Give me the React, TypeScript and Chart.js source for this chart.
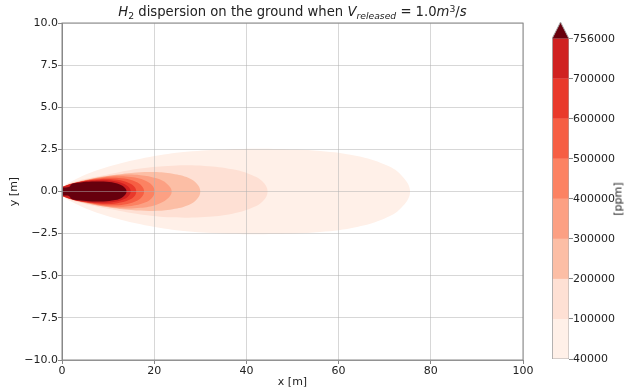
import React, { useEffect, useRef } from 'react';
import { Chart, registerables } from 'chart.js';

Chart.register(...registerables);

// Contour levels [ppm] (colorbar ticks)
const LEVELS = [40000, 100000, 200000, 300000, 400000, 500000, 600000, 700000, 756000];
// Fill colours for each band between successive levels, plus the "over" colour
const BAND_COLORS = ['#fff0e8', '#fee0d4', '#fcbea5', '#fca083', '#fc8262', '#f65e43', '#e9392b', '#d02120'];
const OVER_COLOR = '#67000d';

// Upper half-width (y [m]) of each contour at downwind stations x [m]; contours are symmetric about y = 0
const c40k_x = [0, 2, 6, 12, 19, 27, 36, 46, 56, 64, 70, 73.5, 75.5];
const c40k_w = [0.28, 0.6, 1.1, 1.62, 2.05, 2.36, 2.5, 2.52, 2.4, 2.1, 1.6, 1.0, 0];
const c100k_x = [0, 2, 6, 11, 17, 24, 31, 37, 41, 43.5, 44.6];
const c100k_w = [0.27, 0.52, 0.8, 1.07, 1.36, 1.53, 1.52, 1.32, 1.0, 0.6, 0];
const c200k_x = [0, 2, 6, 10, 15, 20, 24, 27.5, 29.3, 30];
const c200k_w = [0.26, 0.47, 0.74, 0.93, 1.1, 1.15, 1.05, 0.8, 0.45, 0];
const c300k_x = [0, 2, 5, 9, 13, 17, 20.5, 22.8, 23.8];
const c300k_w = [0.26, 0.45, 0.67, 0.88, 1.0, 0.97, 0.78, 0.45, 0];
const c400k_x = [0, 2, 5, 8, 11.5, 15, 18, 19.5, 20.1];
const c400k_w = [0.25, 0.44, 0.64, 0.8, 0.9, 0.86, 0.66, 0.38, 0];
const c500k_x = [0, 2, 4.5, 7.5, 10.5, 13.5, 16, 17.3, 17.8];
const c500k_w = [0.25, 0.43, 0.61, 0.75, 0.82, 0.77, 0.58, 0.33, 0];
const c600k_x = [0, 2, 4.5, 7, 9.5, 12, 14.5, 15.7, 16.1];
const c600k_w = [0.25, 0.43, 0.6, 0.7, 0.74, 0.69, 0.5, 0.28, 0];
const c700k_x = [0, 1.8, 4, 6.5, 9, 11.5, 13.5, 14.5, 14.9];
const c700k_w = [0.25, 0.44, 0.58, 0.65, 0.67, 0.61, 0.45, 0.25, 0];
const c756k_x = [0, 1.5, 2.1, 4, 6.5, 9, 11.5, 13.2, 14.0];
const c756k_w = [0.24, 0.26, 0.45, 0.54, 0.59, 0.59, 0.51, 0.32, 0];

const CONTOURS = [
  { x: c40k_x, w: c40k_w },
  { x: c100k_x, w: c100k_w },
  { x: c200k_x, w: c200k_w },
  { x: c300k_x, w: c300k_w },
  { x: c400k_x, w: c400k_w },
  { x: c500k_x, w: c500k_w },
  { x: c600k_x, w: c600k_w },
  { x: c700k_x, w: c700k_w },
  { x: c756k_x, w: c756k_w },
];

const X_MIN = 0, X_MAX = 100, X_STEP = 20;
const Y_MIN = -10, Y_MAX = 10, Y_STEP = 2.5;

const FONT = 'DejaVu Sans';
const TEXT = '#222';
const SPINE = '#888';
const GRID = 'rgba(176,176,176,0.5)';

const framePlugin = {
  id: 'frame',
  afterDraw(chart: any) {
    const { ctx, chartArea: a } = chart;
    ctx.save();
    ctx.strokeStyle = SPINE;
    ctx.lineWidth = 1;
    ctx.strokeRect(a.left, a.top, a.right - a.left, a.bottom - a.top);
    ctx.restore();
  },
};

const fmtY = (v: number) => (v < 0 ? '\u2212' : '') + Math.abs(v).toFixed(1);

export default function App() {
  const mainRef = useRef<HTMLCanvasElement>(null);
  const barRef = useRef<HTMLCanvasElement>(null);

  useEffect(() => {
    Chart.defaults.font.family = FONT;
    Chart.defaults.font.size = 11;

    const datasets = CONTOURS.map((c, i) => {
      const upper = c.x.map((x, k) => ({ x, y: c.w[k] }));
      const lower = c.x.slice(0, -1).map((x, k) => ({ x, y: -c.w[k] })).reverse();
      return {
        label: '> ' + LEVELS[i],
        data: [...upper, ...lower],
        showLine: true,
        fill: 'shape',
        backgroundColor: i < BAND_COLORS.length ? BAND_COLORS[i] : OVER_COLOR,
        borderColor: 'transparent',
        borderWidth: 0,
        pointRadius: 0,
        tension: 0.4,
        order: CONTOURS.length - i,
      };
    });

    const main = new Chart(mainRef.current!, {
      type: 'scatter',
      data: { datasets: datasets as any },
      options: {
        responsive: false,
        animation: false,
        devicePixelRatio: 1,
        events: [],
        layout: { padding: { left: 0, top: 23, right: 17, bottom: 0 } },
        plugins: { legend: { display: false }, tooltip: { enabled: false }, title: { display: false } },
        scales: {
          x: {
            type: 'linear',
            min: X_MIN,
            max: X_MAX,
            ticks: { stepSize: X_STEP, color: TEXT, padding: 1, maxRotation: 0 },
            grid: { color: GRID, z: 1, tickLength: 4, tickColor: SPINE },
            border: { color: SPINE, z: 1 },
            title: { display: true, text: 'x [m]', color: TEXT, padding: { top: 0, bottom: 2 } },
            afterFit: (s: any) => { s.height = 31; },
          },
          y: {
            type: 'linear',
            min: Y_MIN,
            max: Y_MAX,
            ticks: { stepSize: Y_STEP, color: TEXT, padding: 0, callback: (v: any) => fmtY(Number(v)) },
            grid: { color: GRID, z: 1, tickLength: 4, tickColor: SPINE },
            border: { color: SPINE, z: 1 },
            title: { display: true, text: 'y [m]', color: TEXT, padding: { top: 8, bottom: 0 } },
            afterFit: (s: any) => { s.width = 62; },
          },
        },
      } as any,
      plugins: [framePlugin],
    });

    const nBands = BAND_COLORS.length;
    const tri = 0.42;
    const bandSets = BAND_COLORS.map((col, i) => ({
      label: LEVELS[i] + '-' + LEVELS[i + 1],
      data: [{ x: 0, y: i }, { x: 1, y: i }, { x: 1, y: i + 1 }, { x: 0, y: i + 1 }],
      showLine: true,
      fill: 'shape',
      backgroundColor: col,
      borderColor: 'transparent',
      borderWidth: 0,
      pointRadius: 0,
    }));
    const overSet = {
      label: '> ' + LEVELS[LEVELS.length - 1],
      data: [{ x: 0, y: nBands }, { x: 1, y: nBands }, { x: 0.5, y: nBands + tri }],
      showLine: true,
      fill: 'shape',
      backgroundColor: OVER_COLOR,
      borderColor: 'transparent',
      borderWidth: 0,
      pointRadius: 0,
    };
    const outline = {
      label: 'outline',
      data: [{ x: 0, y: 0 }, { x: 1, y: 0 }, { x: 1, y: nBands }, { x: 0.5, y: nBands + tri }, { x: 0, y: nBands }, { x: 0, y: 0 }],
      showLine: true,
      fill: false,
      borderColor: '#aaa',
      borderWidth: 1,
      pointRadius: 0,
      order: -1,
    };

    const bar = new Chart(barRef.current!, {
      type: 'scatter',
      data: { datasets: [...bandSets, overSet, outline] as any },
      options: {
        responsive: false,
        animation: false,
        devicePixelRatio: 1,
        events: [],
        layout: { padding: { left: 12, top: 22, right: 0, bottom: 32 } },
        plugins: { legend: { display: false }, tooltip: { enabled: false } },
        scales: {
          x: { type: 'linear', min: 0, max: 1, display: false },
          y: {
            type: 'linear',
            position: 'right',
            min: 0,
            max: nBands + tri,
            afterBuildTicks: (s: any) => { s.ticks = LEVELS.map((_, i) => ({ value: i })); },
            ticks: { color: TEXT, padding: 0, autoSkip: false, callback: (_v: any, idx: number) => String(LEVELS[idx]) },
            grid: { drawOnChartArea: false, tickLength: 4, tickColor: SPINE },
            border: { display: false },
            afterFit: (s: any) => { s.width = 55; },
          },
        },
      } as any,
    });

    return () => {
      main.destroy();
      bar.destroy();
    };
  }, []);

  const sub: React.CSSProperties = { fontSize: '70%', position: 'relative', top: '0.28em' };
  const sup: React.CSSProperties = { fontSize: '70%', position: 'relative', top: '-0.45em' };

  return (
    <div style={{ position: 'absolute', left: 0, top: 0, width: 624, height: 391, background: '#fff', overflow: 'hidden' }}>
      <canvas ref={mainRef} width={540} height={391} style={{ position: 'absolute', left: 0, top: 0 }} />
      <canvas ref={barRef} width={84} height={391} style={{ position: 'absolute', left: 540, top: 0 }} />
      <div
        style={{
          position: 'absolute', left: 0, width: 585, top: 4, textAlign: 'center',
          fontFamily: FONT, fontSize: 13.2, lineHeight: '16px', color: TEXT, whiteSpace: 'nowrap',
        }}
      >
        <i>H</i><span style={sub}>2</span> dispersion on the ground when <i>V</i>
        <span style={sub}><i>released</i></span> = 1.0<i>m</i><span style={sup}>3</span>/<i>s</i>
      </div>
      <div
        style={{
          position: 'absolute', left: 618, top: 199, transform: 'translate(-50%, -50%) rotate(-90deg)',
          fontFamily: FONT, fontSize: 11, color: TEXT, whiteSpace: 'nowrap', lineHeight: '13px',
        }}
      >
        [ppm]
      </div>
    </div>
  );
}
